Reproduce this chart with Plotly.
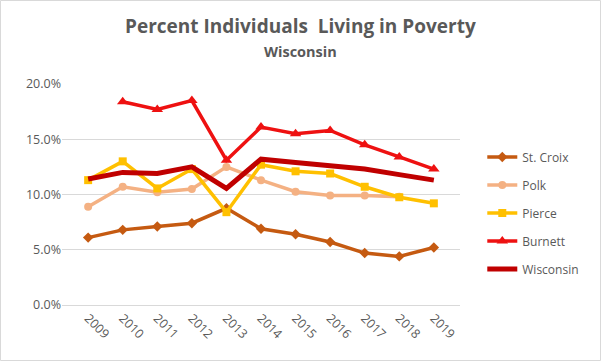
import plotly.graph_objects as go

years = ["2009", "2010", "2011", "2012", "2013", "2014", "2015", "2016", "2017", "2018", "2019"]
st_croix = [0.061, 0.068, 0.071, 0.074, 0.0875, 0.069, 0.064, 0.057, 0.047, 0.044, 0.052]
polk = [0.089, 0.107, 0.102, 0.105, 0.125, 0.113, 0.1025, 0.099, 0.099, 0.098, None]
pierce = [0.113, 0.130, 0.1055, 0.123, 0.084, 0.127, 0.121, 0.119, 0.107, 0.0975, 0.092]
burnett = [None, 0.184, 0.177, 0.185, 0.131, 0.161, 0.155, 0.158, 0.145, 0.134, 0.123]
wisconsin = [0.114, 0.120, 0.119, 0.125, 0.1055, 0.132, 0.129, 0.126, 0.123, 0.118, 0.113]

series = [
    ("St. Croix", st_croix, "#C55A11", "diamond", 8, 3.5),
    ("Polk", polk, "#F4B183", "circle", 8, 3.5),
    ("Pierce", pierce, "#FFC000", "square", 8, 3.5),
    ("Burnett", burnett, "#EE1111", "triangle-up", 10, 3.5),
    ("Wisconsin", wisconsin, "#C00000", None, 0, 5),
]

W, H = 601, 361
L, R, T, B = 62, 141, 84, 56
PW, PH = W - L - R, H - T - B

fig = go.Figure()
for name, vals, color, sym, msize, lw in series:
    kw = {}
    if sym:
        kw["marker"] = dict(symbol=sym, size=msize, color=color)
        mode = "lines+markers"
    else:
        mode = "lines"
    fig.add_trace(go.Scatter(x=years, y=vals, name=name, mode=mode, legendgroup=name,
                             line=dict(color=color, width=lw), **kw))

def py(pix):
    return (H - B - pix) / PH

def px(pix):
    return (pix - L) / PW

fig.update_layout(
    width=W, height=H,
    margin=dict(l=L, r=R, t=T, b=B),
    paper_bgcolor="white", plot_bgcolor="white",
    font=dict(family="Open Sans, Liberation Sans, sans-serif", color="#595959", size=12),
    showlegend=True,
    legend=dict(x=1.056, xanchor="left", y=0.735, yanchor="top",
                font=dict(size=12, color="#595959"),
                tracegroupgap=9, itemwidth=30, bgcolor="rgba(0,0,0,0)"),
    xaxis=dict(type="category", tickangle=45, showgrid=False, showline=True,
               linecolor="#D9D9D9", ticks="", tickfont=dict(size=12.5, color="#595959")),
    yaxis=dict(range=[0, 0.2], tickvals=[0, 0.05, 0.10, 0.15, 0.20], tickformat=".1%",
               showgrid=True, gridcolor="#D9D9D9", zeroline=False, showline=False,
               ticks="", tickfont=dict(size=12.5, color="#595959")),
    annotations=[
        dict(text="<b>Percent Individuals  Living in Poverty</b>", xref="paper", yref="paper",
             x=px(300), y=py(26), xanchor="center", yanchor="middle", showarrow=False,
             font=dict(size=19, color="#595959")),
        dict(text="<b>Wisconsin</b>", xref="paper", yref="paper",
             x=px(300), y=py(51), xanchor="center", yanchor="middle", showarrow=False,
             font=dict(size=14.5, color="#595959")),
    ],
    shapes=[dict(type="rect", xref="paper", yref="paper",
                 x0=px(0.5), x1=px(W - 0.5), y0=py(H - 0.5), y1=py(0.5),
                 line=dict(color="#D9D9D9", width=1), layer="below")],
)

fig.write_html("out.html", config={"displayModeBar": False},
               post_script="document.body.style.margin='0';document.body.style.overflow='hidden';")
